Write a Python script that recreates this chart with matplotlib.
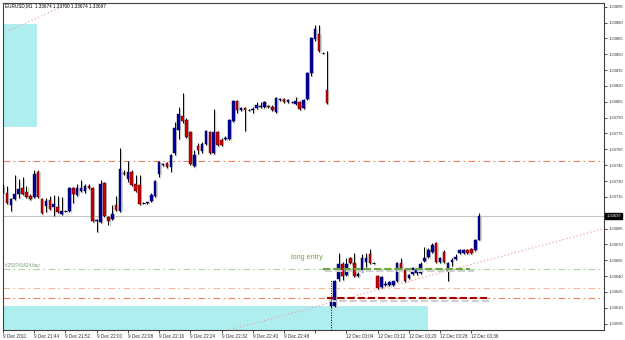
import numpy as np
import matplotlib
matplotlib.use('Agg')
import matplotlib.pyplot as plt
import matplotlib.patches as patches

plt.rcParams['font.family'] = ['Liberation Sans', 'DejaVu Sans']

header = 'EURUSD,M1  1.33674 1.33700 1.33674 1.33697'

# M1 bars: 9 Dec 21:36 - 22:59, then 12 Dec 00:00 - 00:38
opens = [
    1.33720, 1.33719, 1.33707, 1.33713, 1.33718, 1.33723, 1.33720, 1.33716, 1.33715, 1.33739,
    1.33713, 1.33706, 1.33712, 1.33705, 1.33705, 1.33699, 1.33702, 1.33702, 1.33723, 1.33717,
    1.33721, 1.33721, 1.33725, 1.33723, 1.33692, 1.33691, 1.33728, 1.33696, 1.33694, 1.33707,
    1.33702, 1.33738, 1.33732, 1.33739, 1.33727, 1.33726, 1.33709, 1.33709, 1.33711, 1.33716,
    1.33737, 1.33745, 1.33747, 1.33743, 1.33757, 1.33778, 1.33792, 1.33788, 1.33776, 1.33744,
    1.33763, 1.33758, 1.33765, 1.33776, 1.33757, 1.33776, 1.33769, 1.33770, 1.33770, 1.33787,
    1.33806, 1.33797, 1.33799, 1.33797, 1.33797, 1.33799, 1.33800, 1.33800, 1.33801, 1.33800,
    1.33795, 1.33807, 1.33808, 1.33805, 1.33805, 1.33803, 1.33805, 1.33799, 1.33808, 1.33832,
    1.33864, 1.33869, 1.33851, 1.33816,
    1.33612, 1.33612, 1.33637, 1.33651, 1.33641, 1.33657, 1.33652, 1.33640, 1.33645, 1.33653,
    1.33661, 1.33652, 1.33640, 1.33630, 1.33632, 1.33632, 1.33632, 1.33635, 1.33652, 1.33646,
    1.33638, 1.33642, 1.33643, 1.33643, 1.33654, 1.33658, 1.33663, 1.33671, 1.33653, 1.33663,
    1.33645, 1.33653, 1.33656, 1.33662, 1.33662, 1.33665, 1.33666, 1.33665, 1.33674]
highs = [
    1.33727, 1.33725, 1.33714, 1.33736, 1.33732, 1.33734, 1.33725, 1.33718, 1.33740, 1.33740,
    1.33714, 1.33714, 1.33716, 1.33717, 1.33716, 1.33715, 1.33703, 1.33724, 1.33724, 1.33727,
    1.33731, 1.33727, 1.33727, 1.33724, 1.33694, 1.33731, 1.33729, 1.33697, 1.33707, 1.33716,
    1.33761, 1.33740, 1.33749, 1.33740, 1.33736, 1.33736, 1.33710, 1.33710, 1.33719, 1.33731,
    1.33749, 1.33747, 1.33748, 1.33756, 1.33786, 1.33800, 1.33813, 1.33790, 1.33777, 1.33759,
    1.33766, 1.33767, 1.33778, 1.33777, 1.33798, 1.33777, 1.33771, 1.33773, 1.33789, 1.33807,
    1.33807, 1.33800, 1.33800, 1.33798, 1.33800, 1.33805, 1.33805, 1.33806, 1.33802, 1.33802,
    1.33810, 1.33809, 1.33809, 1.33808, 1.33806, 1.33810, 1.33806, 1.33808, 1.33833, 1.33866,
    1.33878, 1.33878, 1.33852, 1.33853,
    1.33618, 1.33636, 1.33662, 1.33653, 1.33657, 1.33658, 1.33662, 1.33644, 1.33661, 1.33662,
    1.33666, 1.33653, 1.33641, 1.33640, 1.33635, 1.33635, 1.33635, 1.33653, 1.33657, 1.33647,
    1.33642, 1.33649, 1.33648, 1.33653, 1.33668, 1.33667, 1.33671, 1.33672, 1.33658, 1.33665,
    1.33653, 1.33657, 1.33661, 1.33666, 1.33666, 1.33666, 1.33667, 1.33675, 1.33700]
lows = [
    1.33719, 1.33708, 1.33702, 1.33712, 1.33714, 1.33717, 1.33714, 1.33712, 1.33714, 1.33714,
    1.33699, 1.33701, 1.33703, 1.33697, 1.33700, 1.33698, 1.33701, 1.33701, 1.33709, 1.33716,
    1.33720, 1.33719, 1.33722, 1.33691, 1.33682, 1.33690, 1.33696, 1.33688, 1.33693, 1.33702,
    1.33701, 1.33736, 1.33729, 1.33725, 1.33720, 1.33707, 1.33708, 1.33708, 1.33710, 1.33715,
    1.33734, 1.33744, 1.33742, 1.33739, 1.33755, 1.33770, 1.33785, 1.33771, 1.33745, 1.33743,
    1.33756, 1.33757, 1.33764, 1.33756, 1.33756, 1.33763, 1.33763, 1.33769, 1.33769, 1.33786,
    1.33794, 1.33796, 1.33777, 1.33796, 1.33794, 1.33798, 1.33799, 1.33799, 1.33799, 1.33796,
    1.33794, 1.33806, 1.33804, 1.33804, 1.33804, 1.33802, 1.33797, 1.33798, 1.33807, 1.33829,
    1.33863, 1.33852, 1.33850, 1.33803,
    1.33611, 1.33611, 1.33635, 1.33636, 1.33640, 1.33651, 1.33639, 1.33639, 1.33644, 1.33649,
    1.33651, 1.33651, 1.33628, 1.33629, 1.33631, 1.33631, 1.33631, 1.33634, 1.33645, 1.33634,
    1.33637, 1.33641, 1.33641, 1.33642, 1.33653, 1.33657, 1.33662, 1.33652, 1.33652, 1.33652,
    1.33635, 1.33650, 1.33655, 1.33661, 1.33661, 1.33661, 1.33661, 1.33664, 1.33674]
closes = [
    1.33723, 1.33709, 1.33713, 1.33718, 1.33722, 1.33718, 1.33715, 1.33713, 1.33737, 1.33715,
    1.33700, 1.33711, 1.33704, 1.33708, 1.33701, 1.33702, 1.33702, 1.33723, 1.33718, 1.33723,
    1.33723, 1.33725, 1.33723, 1.33692, 1.33693, 1.33727, 1.33697, 1.33692, 1.33699, 1.33703,
    1.33741, 1.33737, 1.33739, 1.33726, 1.33721, 1.33708, 1.33709, 1.33710, 1.33717, 1.33730,
    1.33748, 1.33746, 1.33743, 1.33755, 1.33780, 1.33793, 1.33787, 1.33772, 1.33746, 1.33755,
    1.33759, 1.33765, 1.33777, 1.33757, 1.33776, 1.33764, 1.33764, 1.33771, 1.33788, 1.33806,
    1.33797, 1.33799, 1.33797, 1.33797, 1.33798, 1.33802, 1.33801, 1.33805, 1.33800, 1.33797,
    1.33809, 1.33808, 1.33805, 1.33807, 1.33805, 1.33806, 1.33798, 1.33807, 1.33832, 1.33865,
    1.33874, 1.33853, 1.33851, 1.33804,
    1.33617, 1.33635, 1.33651, 1.33640, 1.33651, 1.33652, 1.33640, 1.33642, 1.33657, 1.33657,
    1.33652, 1.33652, 1.33629, 1.33639, 1.33633, 1.33634, 1.33635, 1.33652, 1.33646, 1.33635,
    1.33641, 1.33648, 1.33647, 1.33651, 1.33657, 1.33665, 1.33669, 1.33653, 1.33657, 1.33653,
    1.33652, 1.33655, 1.33658, 1.33665, 1.33665, 1.33662, 1.33662, 1.33674, 1.33697]

time_ticks = [0, 8, 16, 24, 32, 40, 48, 56, 64, 72, 80, 88, 96, 104, 112, 120]
time_labels = ['9 Dec 2011', '9 Dec 21:44', '9 Dec 21:52', '9 Dec 22:00', '9 Dec 22:08',
               '9 Dec 22:16', '9 Dec 22:24', '9 Dec 22:32', '9 Dec 22:40', '9 Dec 22:48',
               '', '12 Dec 00:04', '12 Dec 00:12', '12 Dec 00:20', '12 Dec 00:28', '12 Dec 00:36']
price_ticks = [1.33895, 1.33880, 1.33865, 1.33850, 1.33835, 1.33820, 1.33805, 1.33790,
               1.33775, 1.33760, 1.33745, 1.33730, 1.33715, 1.33685, 1.33670, 1.33655,
               1.33640, 1.33625, 1.33610, 1.33595]
bid = 1.33697

# objects on the chart
level_coral = 1.33749
level_buy = 1.33647
level_orange = 1.33629
level_stop = 1.33619
entry_span = [82.1, 119.7]
stop_span = [83.1, 124.0]
session_bar = 84
session_top = 1.33637
zone_top = [-1, 8.83, 1.33781, 1.33879]
zone_bottom = [-1, 108.9, 1.33570, 1.33612]
trend_a = [[-1, 18], [1.33868, 1.33900]]
trend_b = [[59, 154], [1.33590, 1.33685]]

o = np.array(opens); h = np.array(highs); l = np.array(lows); c = np.array(closes)
x = np.arange(len(o))
up = c > o
dn = c < o
flat = c == o

fig = plt.figure(figsize=(6.25, 3.4), dpi=100)
ax = fig.add_axes([3 / 625, 10 / 340, 601 / 625, 327.3 / 340])
ax.set_xlim(0.13, 154.0)
ax.set_ylim(1.33589, 1.338988)

for z in (zone_top, zone_bottom):
    ax.add_patch(patches.Rectangle((z[0], z[2]), z[1] - z[0], z[3] - z[2],
                                   facecolor='#AFEEEE', edgecolor='none', zorder=1))

dash_dot = (0, (6, 3, 1.5, 3))
ax.axhline(level_coral, color='#EE8060', lw=0.8, ls=dash_dot, zorder=1.5)
ax.axhline(bid, color='#C4C4C4', lw=0.8, zorder=1.5)
ax.axhline(level_buy, color='#A8D69C', lw=0.8, ls=dash_dot, zorder=1.5)
ax.axhline(level_orange, color='#F7B898', lw=0.8, ls=dash_dot, zorder=1.5)
ax.axhline(level_stop, color='#EE8060', lw=0.8, ls=dash_dot, zorder=1.5)

ax.plot(trend_a[0], trend_a[1], color='#F2A2A2', lw=0.8, ls=(0, (1.2, 2)), zorder=1.6)
ax.plot(trend_b[0], trend_b[1], color='#F2A2A2', lw=0.8, ls=(0, (1.2, 2)), zorder=1.6)

# candle shadows
dx, dy = 0.3, -0.000009
ax.vlines(x + dx, l + dy, h + dy, color='#CDCDCD', lw=0.9, zorder=2)
ax.bar(x + dx, np.abs(c - o) + 0.000003, bottom=np.minimum(o, c) + dy, width=0.66,
       color='#D2D2D2', zorder=2)
# candles
ax.vlines(x, l, h, color='black', lw=0.7, zorder=3)
ax.bar(x[up], (c - o)[up], bottom=o[up], width=0.66, color='#00009E',
       edgecolor='#000040', lw=0.3, zorder=4)
ax.bar(x[dn], (o - c)[dn], bottom=c[dn], width=0.66, color='#CC0000',
       edgecolor='#400000', lw=0.3, zorder=4)
ax.hlines(o[flat], x[flat] - 0.33, x[flat] + 0.33, color='black', lw=0.7, zorder=4)

# order lines
sh = 0.000022
ax.hlines(level_buy - sh, entry_span[0] + 0.5, entry_span[1] + 1, color='#D0D0D0',
          lw=1.5, ls=(0, (3.5, 1.4)), zorder=5)
ax.hlines(level_buy, entry_span[0], entry_span[1], color='#6AA83C', lw=1.5,
          ls=(0, (3.5, 1.4)), zorder=6)
ax.hlines(level_stop - sh, stop_span[0] + 0.5, stop_span[1] + 1, color='#D0D0D0',
          lw=1.5, ls=(0, (3.5, 1.4)), zorder=5)
ax.hlines(level_stop, stop_span[0], stop_span[1], color='#A80000', lw=1.5,
          ls=(0, (3.5, 1.4)), zorder=6)
ax.vlines(session_bar, 1.33589, session_top, color='black', lw=0.7,
          ls=(0, (1, 1.5)), zorder=6)

ax.text(73.9, level_buy + 0.000105, 'long entry', color='#6AAA48', fontsize=5.2,
        va='center', ha='left', zorder=7)
ax.text(0.004, level_buy + 0.00001, '#253741424 buy', color='#6E9A66', fontsize=3.3,
        va='bottom', ha='left', transform=ax.get_yaxis_transform(), zorder=7)
ax.text(0.004, 0.997, header, transform=ax.transAxes, fontsize=3.3, va='top', ha='left',
        color='black', zorder=7)

ax.yaxis.tick_right()
ax.set_yticks(price_ticks)
ax.set_yticklabels([f'{p:.5f}' for p in price_ticks])
ax.tick_params(axis='y', length=2.2, width=0.6, pad=1.0, labelsize=3.0,
               colors='#303030', direction='out')
ax.set_xticks(time_ticks)
ax.set_xticklabels(time_labels, ha='left')
ax.tick_params(axis='x', length=2.2, width=0.6, pad=0.6, labelsize=3.3,
               colors='#303030', direction='out')
ax.annotate(f'{bid:.5f}', xy=(1, bid), xycoords=('axes fraction', 'data'),
            xytext=(1.8, 0), textcoords='offset points', ha='left', va='center',
            fontsize=3.0, color='white',
            bbox=dict(boxstyle='square,pad=0.25', fc='black', ec='black'))

for s in ax.spines.values():
    s.set_color('#404040')
    s.set_linewidth(0.8)

fig.savefig('out.png', dpi=100)
